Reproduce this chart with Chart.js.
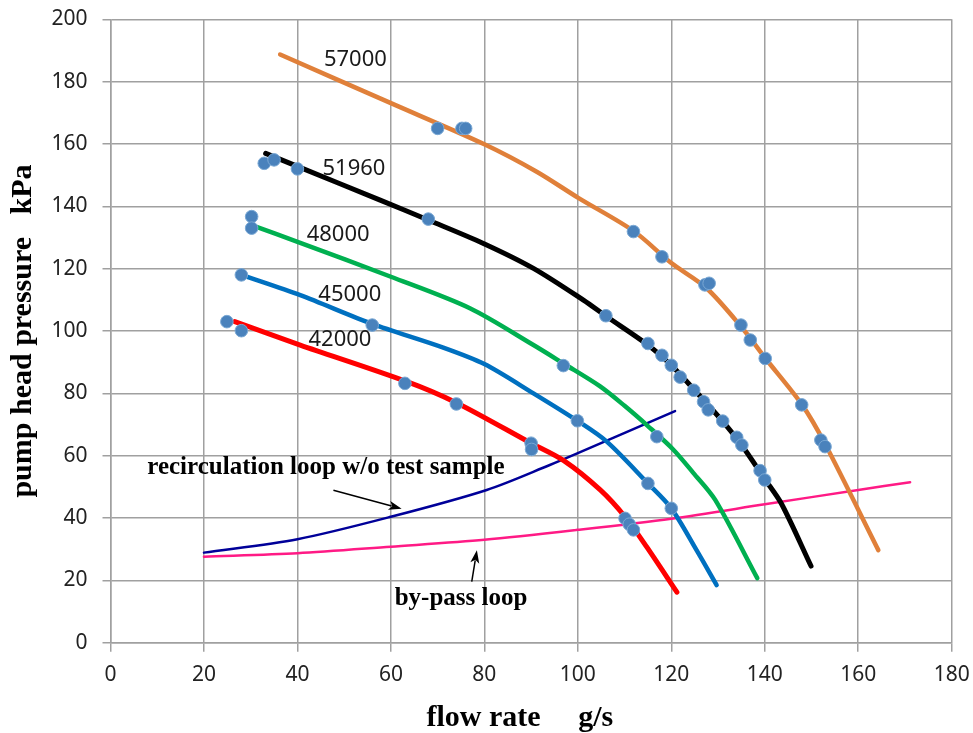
<!DOCTYPE html>
<html><head><meta charset="utf-8">
<script src="https://cdn.jsdelivr.net/npm/chart.js@4.4.0/dist/chart.umd.min.js"></script>
<style>html,body{margin:0;padding:0;background:#fff;}#wrap{width:973px;height:733px;}</style>
</head><body><div id="wrap"><canvas id="c" width="973" height="733"></canvas></div>
<script>
// ---- data (flow rate g/s, pump head pressure kPa) ----
const speedNames = ['57000', '51960', '48000', '45000', '42000'];
const curve57000 = [[36.3,188.7],[60,173.1],[80,159.9],[91.2,151.1],[100,142.8],[112,132],[120,121.8],[127.5,113.8],[135,101.3],[140,91.5],[148,76.3],[153,63.5],[164.3,29.7]];
const curve51960 = [[33.2,157],[40,152.8],[57.7,142],[68,135.6],[79.8,128.1],[90.5,120.1],[101.2,109.9],[106,104.8],[115,95.5],[120,89],[125,81],[131,71],[135,63.5],[140,52.5],[143.6,44.5],[149.9,24.6]];
const curve48000 = [[30.2,134],[40.6,128.3],[60,117.4],[76.9,107.3],[90.5,95.5],[97,89.5],[104.7,82.3],[110,76],[115,69.5],[120.4,62],[124.7,54.5],[129.4,45.8],[138.4,20.7]];
const curve45000 = [[28,118],[40.6,111.5],[56,102.3],[71.2,94.7],[80,89.4],[90.5,80],[100,71.1],[106.2,64.5],[115,51.1],[120,43.1],[125.4,29.7],[129.7,18.5]];
const curve42000 = [[26.6,103],[40.6,95.5],[63,84],[74,77],[90,64],[97,58.4],[104.8,49],[110.1,40.4],[114.7,30.8],[121.2,16.2]];
const recircLoop = [[20,28.9],[40,33.2],[60,40.4],[80.5,49],[94,57],[100,60.8],[120.8,74.3]];
const bypassLoop = [[20,27.6],[40,28.7],[60,30.8],[80,33],[100,36.2],[120,39.8],[140,44.4],[160,49],[171.1,51.5]];

const measured57000 = [[70,165],[75.2,165],[76,165],[111.9,131.9],[118,123.8],[127.2,114.8],[128.1,115.3],[134.9,101.9],[136.9,97.1],[140.1,91.2],[147.9,76.3],[152,65],[152.9,62.9]];
const measured51960 = [[32.9,153.8],[35,154.9],[40,152],[68,135.9],[106,104.9],[115,96],[118,92.2],[120,89],[121.9,85.2],[124.8,81],[126.9,77.3],[127.9,74.7],[131,71.1],[134,65.9],[135.1,63.4],[139,55.2],[140,52.2]];
const measured48000 = [[30.2,136.7],[30.2,133],[96.9,88.9],[116.9,66.1]];
const measured45000 = [[28,118],[56,101.9],[99.9,71.2],[115,51.1],[120,43.1]];
const measured42000 = [[24.9,103],[28,100.1],[63,83.2],[74,76.6],[90,64],[90.1,62],[110.1,39.9],[111,38],[111.9,36.2]];

const xTitle = 'flow rate     g/s   ';
const yTitle = 'pump head pressure   kPa';
const recircText = 'recirculation loop w/o test sample';
const bypassText = 'by-pass loop';

const toXY = a => a.map(p => ({x: p[0], y: p[1]}));

function lineDs(label, pts, color, width) {
  return {type: 'line', label, data: toXY(pts), borderColor: color, borderWidth: width,
    pointRadius: 0, fill: false, tension: 0.3, borderCapStyle: 'round',
    borderJoinStyle: 'round', order: 2};
}
function ptsDs(label, pts) {
  return {type: 'scatter', label, data: toXY(pts), backgroundColor: '#4a82bc', borderColor: '#7aa8d4',
    borderWidth: 1, pointRadius: 6.3, showLine: false, order: 0};
}

const annotationPlugin = {
  id: 'annot',
  afterDatasetsDraw(chart, args, opts) {
    const {ctx, scales: {x, y}} = chart;
    ctx.save();
    ctx.fillStyle = '#1a1a1a';
    ctx.font = '22px "Noto Sans", "Liberation Sans", sans-serif';
    ctx.textAlign = 'center'; ctx.textBaseline = 'middle';
    opts.speedPos.forEach((p, i) => ctx.fillText(speedNames[i], x.getPixelForValue(p[0]), y.getPixelForValue(p[1])));
    ctx.fillStyle = '#000';
    ctx.font = 'bold 25px "Liberation Serif", "Times New Roman", serif';
    ctx.fillText(recircText, x.getPixelForValue(opts.recircPos[0]), y.getPixelForValue(opts.recircPos[1]));
    ctx.fillText(bypassText, x.getPixelForValue(opts.bypassPos[0]), y.getPixelForValue(opts.bypassPos[1]));
    const arrow = (a, b) => {
      const x1 = x.getPixelForValue(a[0]), y1 = y.getPixelForValue(a[1]);
      const x2 = x.getPixelForValue(b[0]), y2 = y.getPixelForValue(b[1]);
      const ang = Math.atan2(y2 - y1, x2 - x1), L = 13, W = 4.5;
      ctx.strokeStyle = '#000'; ctx.lineWidth = 1.5;
      ctx.beginPath(); ctx.moveTo(x1, y1);
      ctx.lineTo(x2 - L * 0.8 * Math.cos(ang), y2 - L * 0.8 * Math.sin(ang)); ctx.stroke();
      ctx.beginPath(); ctx.moveTo(x2, y2);
      ctx.lineTo(x2 - L * Math.cos(ang) + W * Math.sin(ang), y2 - L * Math.sin(ang) - W * Math.cos(ang));
      ctx.lineTo(x2 - L * 0.75 * Math.cos(ang), y2 - L * 0.75 * Math.sin(ang));
      ctx.lineTo(x2 - L * Math.cos(ang) - W * Math.sin(ang), y2 - L * Math.sin(ang) + W * Math.cos(ang));
      ctx.closePath(); ctx.fill();
    };
    arrow(opts.recircArrow[0], opts.recircArrow[1]);
    arrow(opts.bypassArrow[0], opts.bypassArrow[1]);
    ctx.restore();
  }
};

const gridColor = '#a0a0a0';
new Chart(document.getElementById('c'), {
  data: {datasets: [
    lineDs('57000', curve57000, '#e0803a', 4.5),
    lineDs('51960', curve51960, '#000000', 5),
    lineDs('48000', curve48000, '#00b050', 4.5),
    lineDs('45000', curve45000, '#0070c0', 4.5),
    lineDs('42000', curve42000, '#ff0000', 5),
    lineDs('recirculation loop w/o test sample', recircLoop, '#000099', 2.5),
    lineDs('by-pass loop', bypassLoop, '#ff1a85', 2.5),
    ptsDs('m57000', measured57000),
    ptsDs('m51960', measured51960),
    ptsDs('m48000', measured48000),
    ptsDs('m45000', measured45000),
    ptsDs('m42000', measured42000)
  ]},
  options: {
    responsive: false, animation: false,
    layout: {padding: {left: 0, right: 21.3, top: 19.3, bottom: 0}},
    plugins: {
      legend: {display: false}, tooltip: {enabled: false},
      annot: {
        speedPos: [[52.4,186.9],[52.1,152.2],[48.7,130.8],[51.2,111.5],[49.1,97.1]],
        recircPos: [46.1,56.2], bypassPos: [75,14.2],
        recircArrow: [[47.7,48.9],[62.3,43.0]], bypassArrow: [[77.3,19.6],[78.4,29.7]]
      }
    },
    scales: {
      x: {type: 'linear', min: 0, max: 180,
        ticks: {stepSize: 20, color: '#222', padding: 11, font: {family: '"Noto Sans", "Liberation Sans", sans-serif', size: 21}},
        grid: {color: gridColor, lineWidth: 1.5, tickLength: 9, tickColor: gridColor},
        border: {color: gridColor, width: 1.5},
        title: {display: true, text: xTitle, color: '#000', padding: {top: 0, bottom: 0},
          font: {family: '"Liberation Serif", "Times New Roman", serif', size: 30, weight: 'bold', lineHeight: 1.0}},
        afterFit: s => { s.height = 90.3; s.paddingLeft = 0; s.paddingRight = 0; }
      },
      y: {type: 'linear', min: 0, max: 200,
        ticks: {stepSize: 20, color: '#222', padding: 15, font: {family: '"Noto Sans", "Liberation Sans", sans-serif', size: 21}},
        grid: {color: gridColor, lineWidth: 1.5, tickLength: 8, tickColor: gridColor},
        border: {color: gridColor, width: 1.5},
        title: {display: true, text: yTitle, color: '#000', padding: {top: 5, bottom: 0},
          font: {family: '"Liberation Serif", "Times New Roman", serif', size: 30, weight: 'bold'}},
        afterFit: s => { s.width = 110.5; s.paddingTop = 0; s.paddingBottom = 0; }
      }
    }
  },
  plugins: [annotationPlugin]
});
</script></body></html>
